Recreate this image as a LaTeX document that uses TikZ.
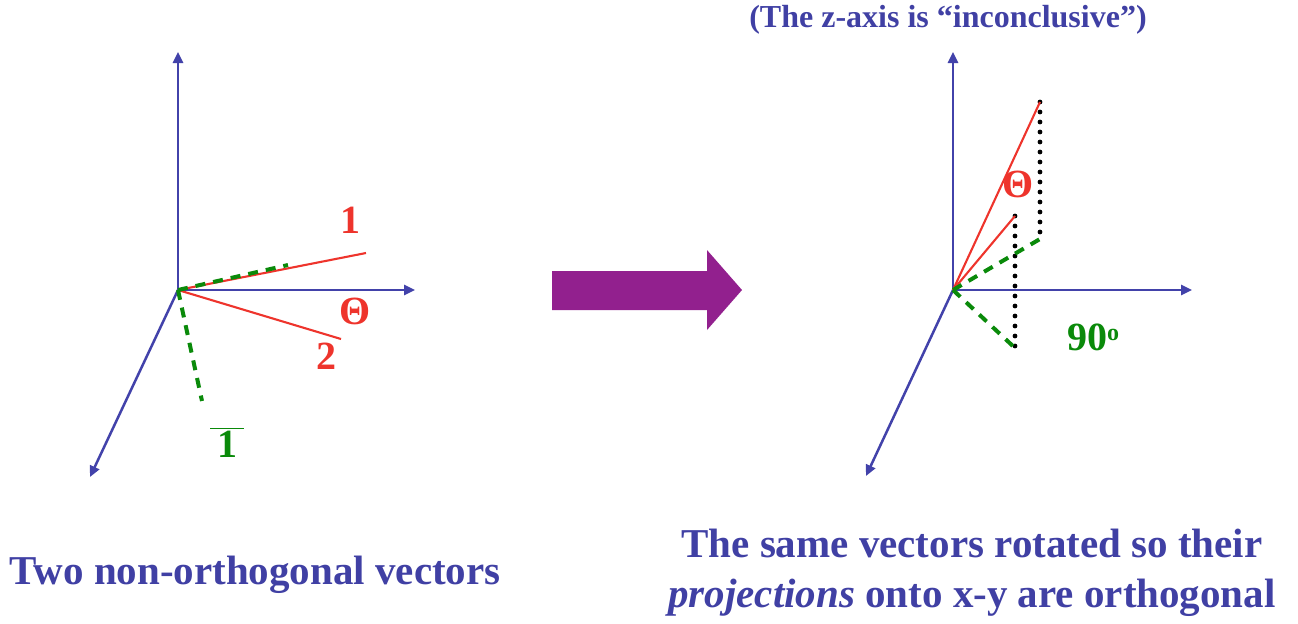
\documentclass[tikz,border=0pt]{standalone}
\usepackage{fontspec}
\setmainfont{Liberation Serif}
\usetikzlibrary{arrows.meta}
\definecolor{axisblue}{RGB}{66,66,170}
\definecolor{txtblue}{RGB}{64,64,164}
\definecolor{vecred}{RGB}{238,52,44}
\definecolor{projgreen}{RGB}{10,138,10}
\definecolor{bigpurple}{RGB}{146,32,142}
\tikzset{
  axis/.style    = {draw=axisblue, line width=1.25pt, -{Triangle[length=5.5pt, width=5pt]}},
  vec/.style     = {draw=vecred, line width=1.05pt},
  proj/.style    = {draw=projgreen, line width=2pt, dash pattern=on 5pt off 4pt},
  drop/.style    = {draw=black, line width=2.4pt, line cap=round, dash pattern=on 0pt off 5pt},
  lbl/.style     = {font=\bfseries\fontsize{20}{22}\selectfont, inner sep=0pt},
  caption/.style = {font=\bfseries\fontsize{20.5}{25}\selectfont, text=txtblue, inner sep=0pt, align=center},
}
\begin{document}
\begin{tikzpicture}[x=0.5pt, y=-0.5pt]
  \useasboundingbox (0,0) rectangle (1298,623);

  % left: two non-orthogonal vectors
  \coordinate (o1) at (178,290);
  \coordinate (z1) at (178,52);
  \coordinate (x1) at (415,290);
  \coordinate (y1) at (90,477);
  \coordinate (v1) at (366,253);
  \coordinate (v2) at (341,339);
  \coordinate (p1) at (288,265);
  \coordinate (q1) at (202,401);

  \draw[axis] (o1) -- (z1);
  \draw[axis] (o1) -- (x1);
  \draw[axis] (o1) -- (y1);
  \draw[vec]  (o1) -- (v1);
  \draw[vec]  (o1) -- (v2);
  \draw[proj] (o1) -- (p1);
  \draw[proj] (o1) -- (q1);

  \node[lbl, text=vecred]    at (350,220) (one)   {1};
  \node[lbl, text=vecred]    at (355,311) (th1)   {Θ};
  \node[lbl, text=vecred]    at (326,356) (two)   {2};
  \node[lbl, text=projgreen] at (227,442) (obar)  {$\overline{\textbf{\,1\,}}$};

  \node[caption] at (255,575) (capl) {Two non-orthogonal vectors};

  % big arrow
  \fill[bigpurple] (552,271) -- (707,271) -- (707,250) -- (742,290)
                   -- (707,330) -- (707,310) -- (552,310) -- cycle;

  % right: rotated so the projections are orthogonal
  \coordinate (o2) at (953,290);
  \coordinate (z2) at (953,52);
  \coordinate (x2) at (1192,290);
  \coordinate (y2) at (866,476);
  \coordinate (w1) at (1040,102);
  \coordinate (w2) at (1015,216);
  \coordinate (r1) at (1040,239);
  \coordinate (r2) at (1015,348);
  \coordinate (s2) at (1015,352);

  \draw[axis] (o2) -- (z2);
  \draw[axis] (o2) -- (x2);
  \draw[axis] (o2) -- (y2);
  \draw[drop] (w1) -- (r1);
  \draw[drop] (w2) -- (s2);
  \draw[vec]  (o2) -- (w1);
  \draw[vec]  (o2) -- (w2);
  \draw[proj] (o2) -- (r1);
  \draw[proj] (o2) -- (r2);

  \node[lbl, text=vecred]    at (1018,184) (th2)  {Θ};
  \node[lbl, text=projgreen] at (1093,337) (ninety) {90\raisebox{0.5ex}{\fontsize{12}{13}\selectfont o}};

  \node[font=\bfseries\fontsize{16}{18}\selectfont, text=txtblue, inner sep=0pt]
    at (948,20) (title) {(The z-axis is ``inconclusive'')};
  \node[caption] at (972,573) (capr)
    {The same vectors rotated so their\\\textit{projections} onto x-y are orthogonal};
\end{tikzpicture}
\end{document}
